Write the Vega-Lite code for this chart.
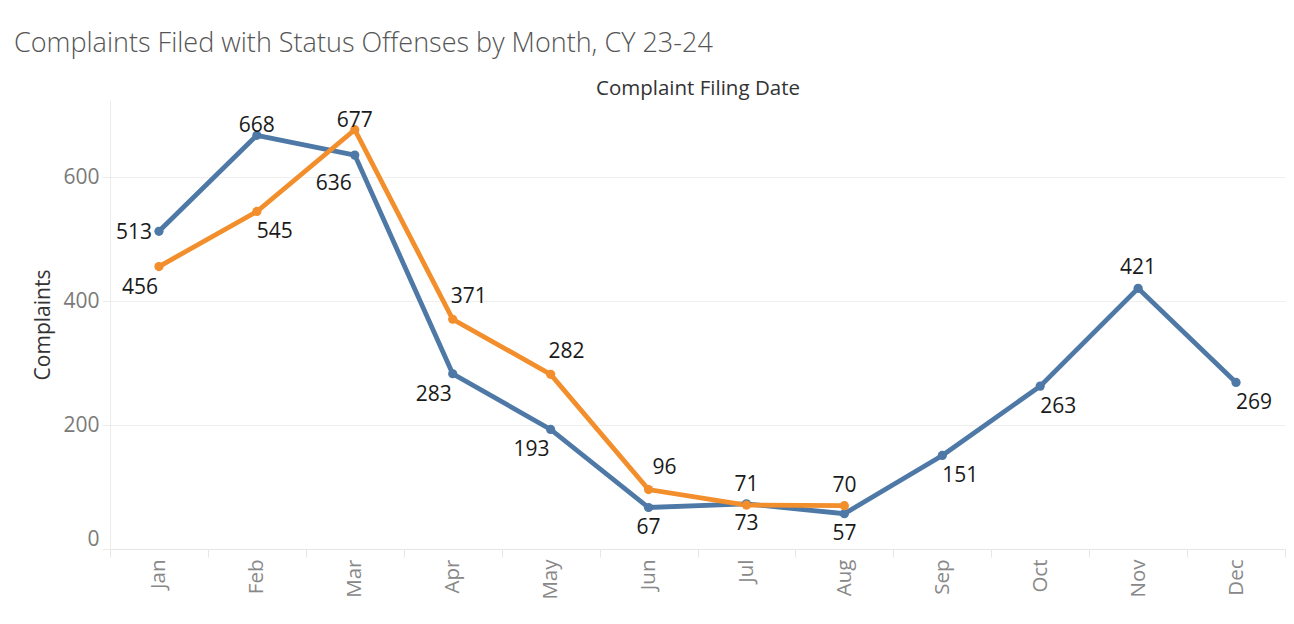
{
  "$schema": "https://vega.github.io/schema/vega-lite/v6.json",
  "width": 1175,
  "height": 449,
  "autosize": {"type": "none"},
  "padding": {"left": 110, "top": 100, "right": 9, "bottom": 75},
  "background": "white",
  "title": {
    "text": "Complaints Filed with Status Offenses by Month, CY 23-24",
    "anchor": "start",
    "frame": "bounds",
    "font": "Open Sans",
    "fontWeight": 300,
    "fontSize": 27,
    "color": "#555555",
    "dx": -19,
    "offset": 20
  },
  "config": {"view": {"stroke": null}, "font": "Open Sans"},
  "data": {
    "values": [
      {"month": "Jan", "year": "2023", "complaints": 513},
      {"month": "Feb", "year": "2023", "complaints": 668},
      {"month": "Mar", "year": "2023", "complaints": 636},
      {"month": "Apr", "year": "2023", "complaints": 283},
      {"month": "May", "year": "2023", "complaints": 193},
      {"month": "Jun", "year": "2023", "complaints": 67},
      {"month": "Jul", "year": "2023", "complaints": 73},
      {"month": "Aug", "year": "2023", "complaints": 57},
      {"month": "Sep", "year": "2023", "complaints": 151},
      {"month": "Oct", "year": "2023", "complaints": 263},
      {"month": "Nov", "year": "2023", "complaints": 421},
      {"month": "Dec", "year": "2023", "complaints": 269},
      {"month": "Jan", "year": "2024", "complaints": 456},
      {"month": "Feb", "year": "2024", "complaints": 545},
      {"month": "Mar", "year": "2024", "complaints": 677},
      {"month": "Apr", "year": "2024", "complaints": 371},
      {"month": "May", "year": "2024", "complaints": 282},
      {"month": "Jun", "year": "2024", "complaints": 96},
      {"month": "Jul", "year": "2024", "complaints": 71},
      {"month": "Aug", "year": "2024", "complaints": 70}
    ]
  },
  "encoding": {
    "y": {
      "field": "complaints",
      "type": "quantitative",
      "scale": {"domain": [0, 725], "nice": false},
      "axis": {
        "title": "Complaints",
        "values": [0, 200, 400, 600],
        "grid": true,
        "gridColor": "#efefef",
        "domain": true,
        "domainColor": "#ececec",
        "tickColor": "#ececec",
        "tickSize": 8,
        "labelPadding": 3,
        "labelFont": "Open Sans",
        "labelFontSize": 21,
        "labelColor": "#7a7a7a",
        "labelFlush": true,
        "labelFlushOffset": 0,
        "titleFont": "Open Sans",
        "titleFontSize": 21,
        "titleFontWeight": "normal",
        "titleColor": "#333333",
        "titlePadding": 9
      }
    }
  },
  "layer": [
    {
      "mark": {"type": "line", "strokeWidth": 4.8},
      "encoding": {
        "x": {
          "field": "month", "type": "ordinal", "bandPosition": 0.5,
          "scale": {"type": "band", "paddingInner": 0, "paddingOuter": 0, "domain": ["Jan","Feb","Mar","Apr","May","Jun","Jul","Aug","Sep","Oct","Nov","Dec"]},
          "axis": {
            "orient": "top",
            "title": "Complaint Filing Date",
            "labels": false,
            "ticks": false,
            "domain": false,
            "grid": false,
            "titleFont": "Open Sans",
            "titleFontSize": 20.5,
            "titleFontWeight": "normal",
            "titleColor": "#333333",
            "titlePadding": 2
          }
        },
        "color": {"field": "year", "type": "nominal", "scale": {"domain": ["2023", "2024"], "range": ["#4e79a7", "#f28e2b"]}, "legend": null}
      }
    },
    {
      "mark": {"type": "point", "filled": true, "size": 85, "opacity": 1},
      "encoding": {
        "x": {
          "field": "month", "type": "ordinal", "bandPosition": 0.5,
          "scale": {"type": "band", "paddingInner": 0, "paddingOuter": 0, "domain": ["Jan","Feb","Mar","Apr","May","Jun","Jul","Aug","Sep","Oct","Nov","Dec"]},
          "axis": {
            "orient": "bottom",
            "title": null,
            "labelAngle": -90,
            "tickBand": "extent",
            "tickSize": 8,
            "tickColor": "#e6e6e6",
            "domainColor": "#e6e6e6",
            "grid": false,
            "labelFont": "Open Sans",
            "labelFontSize": 20.5,
            "labelColor": "#888888",
            "labelPadding": 2
          }
        },
        "color": {"field": "year", "type": "nominal", "scale": {"domain": ["2023", "2024"], "range": ["#4e79a7", "#f28e2b"]}, "legend": null}
      }
    },
    {
      "transform": [{"filter": "indexof(['2024Jul','2024Aug','2023Nov'], datum.year + datum.month) >= 0"}],
      "mark": {"type": "text", "font": "Open Sans", "fontSize": 21, "color": "#1a1a1a", "baseline": "middle", "dy": -20},
      "encoding": {
        "x": {"field": "month", "type": "ordinal", "bandPosition": 0.5, "axis": null},
        "text": {"field": "complaints", "type": "quantitative"}
      }
    },
    {
      "transform": [{"filter": "indexof(['2024Apr','2024May','2024Jun'], datum.year + datum.month) >= 0"}],
      "mark": {"type": "text", "font": "Open Sans", "fontSize": 21, "color": "#1a1a1a", "baseline": "middle", "dx": 16, "dy": -22},
      "encoding": {
        "x": {"field": "month", "type": "ordinal", "bandPosition": 0.5, "axis": null},
        "text": {"field": "complaints", "type": "quantitative"}
      }
    },
    {
      "transform": [{"filter": "indexof(['2023Jun','2023Jul','2023Aug'], datum.year + datum.month) >= 0"}],
      "mark": {"type": "text", "font": "Open Sans", "fontSize": 21, "color": "#1a1a1a", "baseline": "middle", "dy": 20},
      "encoding": {
        "x": {"field": "month", "type": "ordinal", "bandPosition": 0.5, "axis": null},
        "text": {"field": "complaints", "type": "quantitative"}
      }
    },
    {
      "transform": [{"filter": "indexof(['2024Jan','2023Apr','2023May'], datum.year + datum.month) >= 0"}],
      "mark": {"type": "text", "font": "Open Sans", "fontSize": 21, "color": "#1a1a1a", "baseline": "middle", "dx": -19, "dy": 21},
      "encoding": {
        "x": {"field": "month", "type": "ordinal", "bandPosition": 0.5, "axis": null},
        "text": {"field": "complaints", "type": "quantitative"}
      }
    },
    {
      "transform": [{"filter": "indexof(['2024Feb','2023Sep','2023Oct','2023Dec'], datum.year + datum.month) >= 0"}],
      "mark": {"type": "text", "font": "Open Sans", "fontSize": 21, "color": "#1a1a1a", "baseline": "middle", "dx": 18, "dy": 21},
      "encoding": {
        "x": {"field": "month", "type": "ordinal", "bandPosition": 0.5, "axis": null},
        "text": {"field": "complaints", "type": "quantitative"}
      }
    },
    {
      "transform": [{"filter": "indexof(['2023Feb','2024Mar'], datum.year + datum.month) >= 0"}],
      "mark": {"type": "text", "font": "Open Sans", "fontSize": 21, "color": "#1a1a1a", "baseline": "middle", "dy": -9},
      "encoding": {
        "x": {"field": "month", "type": "ordinal", "bandPosition": 0.5, "axis": null},
        "text": {"field": "complaints", "type": "quantitative"}
      }
    },
    {
      "transform": [{"filter": "datum.year + datum.month == '2023Mar'"}],
      "mark": {"type": "text", "font": "Open Sans", "fontSize": 21, "color": "#1a1a1a", "baseline": "middle", "dx": -21, "dy": 29},
      "encoding": {
        "x": {"field": "month", "type": "ordinal", "bandPosition": 0.5, "axis": null},
        "text": {"field": "complaints", "type": "quantitative"}
      }
    },
    {
      "transform": [{"filter": "datum.year + datum.month == '2023Jan'"}],
      "mark": {"type": "text", "font": "Open Sans", "fontSize": 21, "color": "#1a1a1a", "baseline": "middle", "dx": -25, "dy": 2},
      "encoding": {
        "x": {"field": "month", "type": "ordinal", "bandPosition": 0.5, "axis": null},
        "text": {"field": "complaints", "type": "quantitative"}
      }
    }
  ],
  "resolve": {"axis": {"x": "independent"}}
}
